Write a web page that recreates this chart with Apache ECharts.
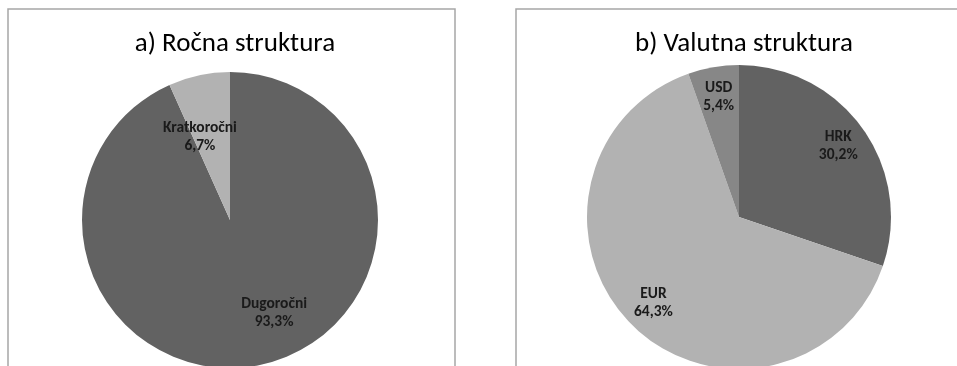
<!DOCTYPE html>
<html>
<head>
<meta charset="utf-8">
<script src="https://cdn.jsdelivr.net/npm/echarts@6/dist/echarts.min.js"></script>
<style>
  html, body { margin: 0; padding: 0; background: #fff; }
  #chart { width: 957px; height: 366px; }
</style>
</head>
<body>
<div id="chart"></div>
<script>
// ročna struktura (maturity)
const maturityNames = ['Dugoročni', 'Kratkoročni'];
const maturityValues = [93.3, 6.7];
// valutna struktura (currency)
const currencyNames = ['HRK', 'EUR', 'USD'];
const currencyValues = [30.2, 64.3, 5.4];

const titles = ['a) Ročna struktura', 'b) Valutna struktura'];

const DARK = '#626262';
const LIGHT = '#b2b2b2';
const MID = '#878787';
const FONT = 'Carlito, Lato, sans-serif';

// nudge labels outward like the original (Excel places them further out)
const maturityNudge = [[28, 18], [-14, -8]];
const currencyNudge = [[35, -25], [-30, 30], [-7, -42]];

function toData(names, values, colors) {
  return names.map(function (n, i) {
    return { name: n, value: values[i], itemStyle: { color: colors[i] } };
  });
}

function fmt(p) {
  return p.name + '\n' + p.value.toFixed(1).replace('.', ',') + '%';
}

function pieSeries(data, center, radius, nudge) {
  return {
    type: 'pie',
    center: center,
    radius: radius,
    startAngle: 90,
    clockwise: true,
    silent: true,
    animation: false,
    label: {
      show: true,
      position: 'inside',
      formatter: fmt,
      color: '#1a1a1a',
      fontFamily: FONT,
      fontWeight: 'bold',
      fontSize: 15.5,
      lineHeight: 18
    },
    labelLine: { show: false },
    labelLayout: function (params) {
      const d = nudge[params.dataIndex];
      return { dx: d[0], dy: d[1] };
    },
    itemStyle: { borderWidth: 0 },
    data: data
  };
}

const chart = echarts.init(document.getElementById('chart'));
chart.setOption({
  backgroundColor: '#fff',
  animation: false,
  title: [
    { text: titles[0], left: 230, top: 26, textAlign: 'center',
      textStyle: { fontFamily: FONT, fontWeight: 'normal', fontSize: 27, color: '#000' } },
    { text: titles[1], left: 739, top: 26, textAlign: 'center',
      textStyle: { fontFamily: FONT, fontWeight: 'normal', fontSize: 27, color: '#000' } }
  ],
  graphic: [
    { type: 'rect', shape: { x: 8, y: 9, width: 447, height: 420 },
      style: { fill: 'none', stroke: '#a6a6a6', lineWidth: 1.5 }, z: -1 },
    { type: 'rect', shape: { x: 516, y: 9, width: 480, height: 420 },
      style: { fill: 'none', stroke: '#a6a6a6', lineWidth: 1.5 }, z: -1 }
  ],
  series: [
    pieSeries(toData(maturityNames, maturityValues, [DARK, LIGHT]), [230, 220], 148, maturityNudge),
    pieSeries(toData(currencyNames, currencyValues, [DARK, LIGHT, MID]), [739, 217], 152, currencyNudge)
  ]
});
</script>
</body>
</html>
